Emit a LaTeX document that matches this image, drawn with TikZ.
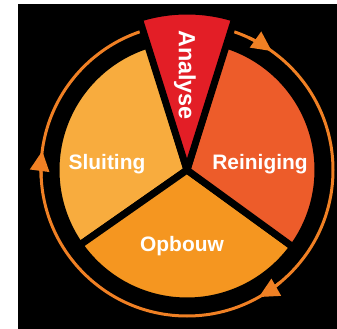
\documentclass[tikz,border=0pt]{standalone}
\usepackage{fontspec}
\setmainfont{Liberation Sans}
\usepackage{tikz}
\usetikzlibrary{
	arrows.meta, calc
}
\definecolor{analysered}    {RGB}{227,  30,  38}
\definecolor{reinigingred}  {RGB}{237,  92,  42}
\definecolor{opbouworange}  {RGB}{245, 150,  32}
\definecolor{sluitingorange}{RGB}{248, 172,  62}
\definecolor{ringorange}    {RGB}{240, 128,  36}

\tikzset{
	segment/.style={draw=black, line width=7bp, line join=round},
	phase/.style={text=white, font=\bfseries\fontsize{21}{24}\selectfont, inner sep=0pt},
	ring/.style={ringorange, line width=3bp}
}

\begin{document}
\begin{tikzpicture}[x=1bp,y=1bp]
	\useasboundingbox (0,0) rectangle (337,329);
	\fill[white] (0,0) rectangle (337,329);
	\fill[black] (18,0) rectangle (337,325);
	\coordinate (C) at (187,159);
	% ring with arrows
	\draw[ring] (C) circle[radius=146];
	\foreach \a in {58,176,-57}{\draw[ring, -{Triangle[length=20bp,width=19bp]}] ($(C)+({\a+7}:146)$) arc[start angle={\a+7}, end angle={\a-3.5}, radius=146];}
	% segments
	\filldraw[segment, fill=sluitingorange] (C) -- ++(107:131) arc[start angle=107, end angle=215, radius=131] -- cycle;
	\filldraw[segment, fill=opbouworange] (C) -- ++(215:131) arc[start angle=215, end angle=324, radius=131] -- cycle;
	\filldraw[segment, fill=reinigingred] (C) -- ++(-36:131) arc[start angle=-36, end angle=73, radius=131] -- cycle;
	\filldraw[segment, fill=analysered] (C) -- ++(72.5:159) arc[start angle=72.5, end angle=107.5, radius=159] -- cycle;
	\node[phase] (sluiting) at ($(C)+(-80,6)$) {Sluiting};
	\node[phase] (reiniging) at ($(C)+(73,6)$) {Reiniging};
	\node[phase] (opbouw) at ($(C)+(-5,-76)$) {Opbouw};
	\node[phase, rotate=-90, font=\bfseries\fontsize{23.5}{26}\selectfont] (analyse) at ($(C)+(-2,95)$) {Analyse};
\end{tikzpicture}
\end{document}
